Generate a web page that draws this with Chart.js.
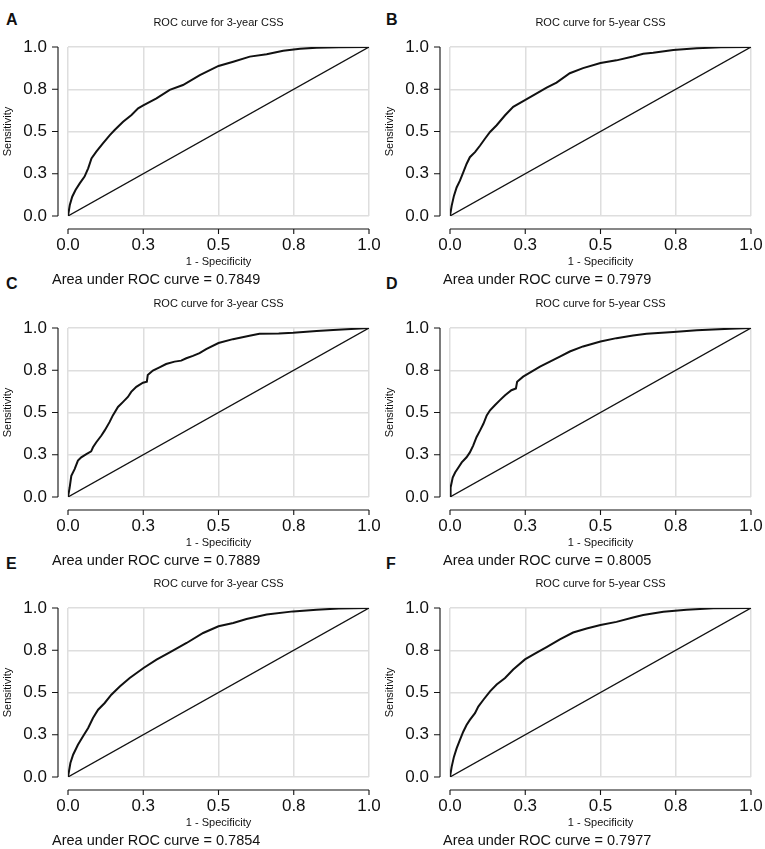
<!DOCTYPE html>
<html>
<head>
<meta charset="utf-8">
<script src="https://cdn.jsdelivr.net/npm/chart.js@4.4.0/dist/chart.umd.min.js"></script>
<style>
html, body { margin: 0; padding: 0; background: #fff; overflow: hidden; }
body { width: 765px; height: 849px; position: relative; font-family: "Liberation Sans", Arial, sans-serif; }
.panel { position: absolute; width: 383px; height: 290px; }
.letter { position: absolute; font-weight: bold; font-size: 16px; line-height: 16px; color: #111; }
</style>
</head>
<body>
<div class="letter" style="left:6px;top:12px">A</div>
<div class="letter" style="left:386px;top:12px">B</div>
<div class="letter" style="left:6px;top:276px">C</div>
<div class="letter" style="left:386px;top:276px">D</div>
<div class="letter" style="left:6px;top:556px">E</div>
<div class="letter" style="left:386px;top:556px">F</div>

<canvas class="panel" id="c0" width="383" height="290" style="left:0px;top:0px"></canvas>
<canvas class="panel" id="c1" width="383" height="290" style="left:382px;top:0px"></canvas>
<canvas class="panel" id="c2" width="383" height="290" style="left:0px;top:281px"></canvas>
<canvas class="panel" id="c3" width="383" height="290" style="left:382px;top:281px"></canvas>
<canvas class="panel" id="c4" width="383" height="290" style="left:0px;top:561px"></canvas>
<canvas class="panel" id="c5" width="383" height="290" style="left:382px;top:561px"></canvas>

<script>
// Ejes: posiciones de las marcas y el texto que muestra R
const tickValues = [0, 0.25, 0.5, 0.75, 1];
const tickLabels = ["0.0", "0.3", "0.5", "0.8", "1.0"];
const diagonal = [0, 1];

// Títulos y AUC de cada panel (A..F)
const titles = ["ROC curve for 3-year CSS", "ROC curve for 5-year CSS",
                "ROC curve for 3-year CSS", "ROC curve for 5-year CSS",
                "ROC curve for 3-year CSS", "ROC curve for 5-year CSS"];
const aucValues = ["0.7849", "0.7979", "0.7889", "0.8005", "0.7854", "0.7977"];

// Curvas ROC (1 - especificidad, sensibilidad)
const fprA = [0, 0.006, 0.014, 0.025, 0.039, 0.055, 0.067, 0.078, 0.094, 0.116, 0.139, 0.155, 0.183, 0.211, 0.233, 0.25, 0.294, 0.338, 0.382, 0.438, 0.5, 0.549, 0.604, 0.66, 0.715, 0.771, 0.826, 0.9, 1];
const tprA = [0, 0.065, 0.114, 0.154, 0.193, 0.233, 0.282, 0.341, 0.381, 0.43, 0.479, 0.509, 0.558, 0.598, 0.637, 0.655, 0.696, 0.746, 0.775, 0.834, 0.888, 0.913, 0.943, 0.957, 0.978, 0.99, 0.996, 0.999, 1];

const fprB = [0, 0.0055, 0.013, 0.022, 0.033, 0.044, 0.055, 0.066, 0.083, 0.1, 0.116, 0.133, 0.155, 0.183, 0.21, 0.249, 0.288, 0.321, 0.354, 0.398, 0.442, 0.5, 0.553, 0.608, 0.642, 0.675, 0.742, 0.82, 0.9, 1];
const tprB = [0, 0.06, 0.119, 0.169, 0.209, 0.258, 0.308, 0.348, 0.378, 0.417, 0.457, 0.497, 0.537, 0.596, 0.646, 0.686, 0.726, 0.759, 0.789, 0.845, 0.875, 0.905, 0.921, 0.944, 0.96, 0.966, 0.982, 0.992, 0.998, 1];

const fprC = [0, 0.0055, 0.011, 0.022, 0.033, 0.044, 0.061, 0.077, 0.083, 0.094, 0.111, 0.122, 0.138, 0.149, 0.166, 0.183, 0.199, 0.21, 0.227, 0.249, 0.262, 0.265, 0.282, 0.304, 0.326, 0.354, 0.376, 0.393, 0.415, 0.437, 0.459, 0.5, 0.548, 0.603, 0.636, 0.7, 0.748, 0.826, 0.881, 1];
const tprC = [0, 0.056, 0.125, 0.165, 0.215, 0.235, 0.254, 0.27, 0.294, 0.324, 0.364, 0.394, 0.443, 0.483, 0.533, 0.563, 0.592, 0.622, 0.652, 0.676, 0.682, 0.722, 0.748, 0.767, 0.787, 0.801, 0.807, 0.821, 0.835, 0.851, 0.875, 0.911, 0.934, 0.954, 0.966, 0.968, 0.972, 0.982, 0.988, 1];

const fprD = [0, 0.002, 0.009, 0.017, 0.028, 0.039, 0.055, 0.066, 0.077, 0.088, 0.1, 0.111, 0.122, 0.133, 0.149, 0.166, 0.183, 0.204, 0.219, 0.223, 0.243, 0.271, 0.299, 0.332, 0.365, 0.398, 0.442, 0.5, 0.553, 0.608, 0.653, 0.742, 0.82, 0.931, 1];
const tprD = [0, 0.056, 0.115, 0.145, 0.175, 0.205, 0.235, 0.264, 0.304, 0.354, 0.394, 0.433, 0.483, 0.513, 0.543, 0.573, 0.602, 0.632, 0.642, 0.682, 0.712, 0.742, 0.771, 0.801, 0.831, 0.861, 0.891, 0.92, 0.94, 0.956, 0.966, 0.976, 0.986, 0.996, 1];

const fprE = [0, 0.008, 0.017, 0.033, 0.05, 0.067, 0.083, 0.1, 0.122, 0.144, 0.172, 0.205, 0.251, 0.294, 0.338, 0.394, 0.449, 0.5, 0.549, 0.593, 0.66, 0.748, 0.826, 0.9, 1];
const tprE = [0, 0.083, 0.132, 0.191, 0.241, 0.29, 0.349, 0.398, 0.438, 0.487, 0.536, 0.586, 0.645, 0.694, 0.738, 0.793, 0.852, 0.892, 0.911, 0.935, 0.961, 0.98, 0.99, 0.997, 1];

const fprF = [0, 0.0055, 0.013, 0.022, 0.033, 0.044, 0.055, 0.066, 0.083, 0.094, 0.111, 0.133, 0.155, 0.183, 0.21, 0.249, 0.288, 0.321, 0.365, 0.409, 0.454, 0.5, 0.553, 0.608, 0.642, 0.709, 0.786, 0.875, 1];
const tprF = [0, 0.06, 0.119, 0.169, 0.219, 0.268, 0.308, 0.338, 0.378, 0.417, 0.457, 0.507, 0.547, 0.586, 0.636, 0.696, 0.736, 0.769, 0.815, 0.855, 0.879, 0.899, 0.918, 0.944, 0.958, 0.978, 0.99, 0.998, 1];

const FONT = '"Liberation Sans", Arial, sans-serif';
const INK = "#111";

// Ejes al estilo R: separados del área del gráfico, con marcas hacia afuera
const rStyle = {
    id: "rStyle",
    afterDraw(chart, args, o) {
        const ctx = chart.ctx;
        const xs = chart.scales.x, ys = chart.scales.y;
        const axY = ys.bottom + 13;
        const axX = xs.left - 10;
        ctx.save();
        ctx.strokeStyle = INK;
        ctx.lineWidth = 1.1;
        ctx.beginPath();
        ctx.moveTo(xs.getPixelForValue(0), axY);
        ctx.lineTo(xs.getPixelForValue(1), axY);
        tickValues.forEach(v => {
            const px = xs.getPixelForValue(v);
            ctx.moveTo(px, axY);
            ctx.lineTo(px, axY + 5);
        });
        ctx.moveTo(axX, ys.getPixelForValue(0));
        ctx.lineTo(axX, ys.getPixelForValue(1));
        tickValues.forEach(v => {
            const py = ys.getPixelForValue(v);
            ctx.moveTo(axX, py);
            ctx.lineTo(axX - 6, py);
        });
        ctx.stroke();

        ctx.fillStyle = INK;
        ctx.textBaseline = "middle";
        ctx.textAlign = "center";
        ctx.font = "11px " + FONT;
        ctx.fillText(o.title, (xs.left + xs.right) / 2, 23);
        ctx.textAlign = "left";
        ctx.font = "14.5px " + FONT;
        ctx.fillText("Area under ROC curve = " + o.auc, o.aucX, 280);
        ctx.restore();
    }
};

// Quitar el margen extra que Chart.js reserva para las etiquetas de los extremos
function noEdgePadding(s) {
    s.paddingLeft = 0;
    s.paddingRight = 0;
    s.paddingTop = 0;
    s.paddingBottom = 0;
}

function makePanel(idx, fpr, tpr) {
    const col = idx % 2;
    new Chart(document.getElementById("c" + idx), {
        type: "line",
        data: {
            datasets: [
                {
                    data: fpr.map((v, i) => ({ x: v, y: tpr[i] })),
                    borderColor: INK,
                    borderWidth: 2,
                    pointRadius: 0,
                    tension: 0
                },
                {
                    data: diagonal.map(v => ({ x: v, y: v })),
                    borderColor: INK,
                    borderWidth: 1.3,
                    pointRadius: 0
                }
            ]
        },
        options: {
            responsive: false,
            animation: false,
            events: [],
            layout: { padding: { left: 0, top: 47, right: 14, bottom: 0 } },
            plugins: {
                legend: { display: false },
                tooltip: { enabled: false },
                rStyle: { title: titles[idx], auc: aucValues[idx], aucX: col === 0 ? 52 : 61 }
            },
            scales: {
                x: {
                    type: "linear",
                    min: 0,
                    max: 1,
                    afterBuildTicks: s => { s.ticks = tickValues.map(v => ({ value: v })); },
                    afterFit: s => { s.height = 74; noEdgePadding(s); },
                    grid: { color: "#dedede", lineWidth: 1.5, drawTicks: false },
                    border: { display: false },
                    ticks: {
                        padding: 19,
                        color: INK,
                        maxRotation: 0,
                        autoSkip: false,
                        font: { size: 17, family: FONT },
                        callback: (v, i) => tickLabels[i]
                    },
                    title: {
                        display: true,
                        text: "1 - Specificity",
                        color: INK,
                        font: { size: 11, family: FONT },
                        padding: { top: 0, bottom: 21.4 }
                    }
                },
                y: {
                    type: "linear",
                    min: 0,
                    max: 1,
                    afterBuildTicks: s => { s.ticks = tickValues.map(v => ({ value: v })); },
                    afterFit: s => { s.width = 68; noEdgePadding(s); },
                    grid: { color: "#dedede", lineWidth: 1.5, drawTicks: false },
                    border: { display: false },
                    ticks: {
                        padding: 21,
                        color: INK,
                        autoSkip: false,
                        font: { size: 17, family: FONT },
                        callback: (v, i) => tickLabels[i]
                    },
                    title: {
                        display: true,
                        text: "Sensitivity",
                        color: INK,
                        font: { size: 11, family: FONT },
                        padding: { top: 1.4, bottom: 0 }
                    }
                }
            }
        },
        plugins: [rStyle]
    });
}

makePanel(0, fprA, tprA);
makePanel(1, fprB, tprB);
makePanel(2, fprC, tprC);
makePanel(3, fprD, tprD);
makePanel(4, fprE, tprE);
makePanel(5, fprF, tprF);
</script>
</body>
</html>
